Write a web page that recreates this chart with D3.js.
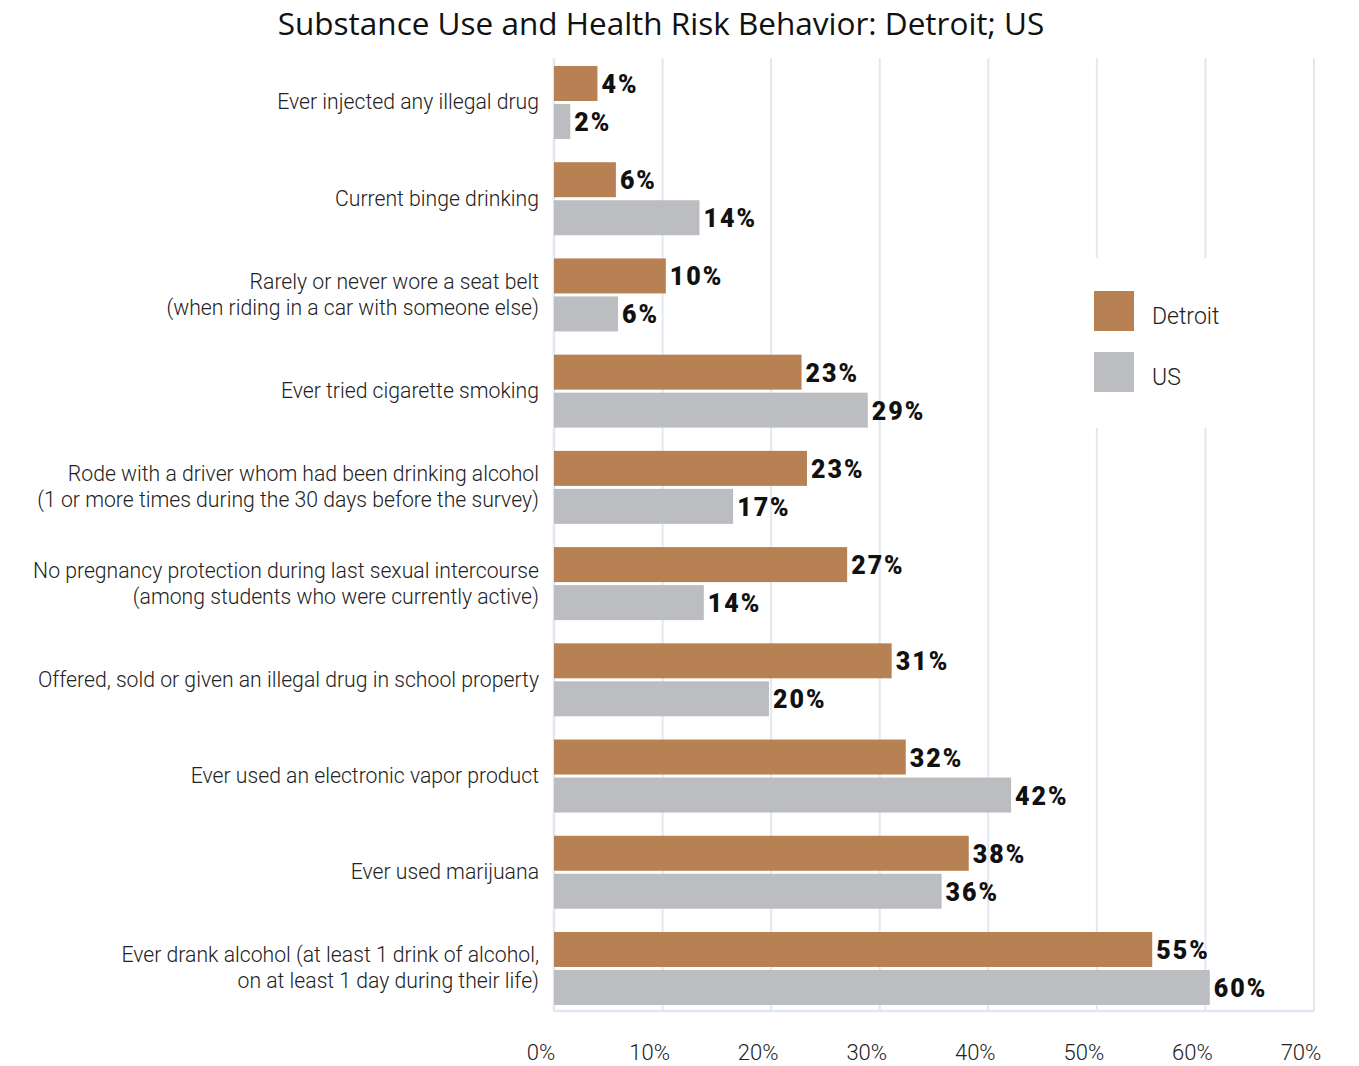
<!DOCTYPE html>
<html>
<head>
<meta charset="utf-8">
<script src="https://cdn.jsdelivr.net/npm/d3@7"></script>
<style>
  body { margin: 0; background: #fff; }
  svg { display: block; }
</style>
</head>
<body>
<svg width="1359" height="1066"></svg>
<script>
// categories, each an array of label lines
const categories = [
    ["Ever injected any illegal drug"],
    ["Current binge drinking"],
    ["Rarely or never wore a seat belt", "(when riding in a car with someone else)"],
    ["Ever tried cigarette smoking"],
    ["Rode with a driver whom had been drinking alcohol", "(1 or more times during the 30 days before the survey)"],
    ["No pregnancy protection during last sexual intercourse", "(among students who were currently active)"],
    ["Offered, sold or given an illegal drug in school property"],
    ["Ever used an electronic vapor product"],
    ["Ever used marijuana"],
    ["Ever drank alcohol (at least 1 drink of alcohol,", "on at least 1 day during their life)"]
];

// bar lengths (%)
const detroitValues = [4.0, 5.7, 10.3, 22.8, 23.3, 27.0, 31.1, 32.4, 38.2, 55.1];
const usValues = [1.5, 13.4, 5.9, 28.9, 16.5, 13.8, 19.8, 42.1, 35.7, 60.4];

// printed value labels
const detroitLabels = ["4%", "6%", "10%", "23%", "23%", "27%", "31%", "32%", "38%", "55%"];
const usLabels = ["2%", "14%", "6%", "29%", "17%", "14%", "20%", "42%", "36%", "60%"];

const xTicks = [0, 10, 20, 30, 40, 50, 60, 70];
const seriesNames = ["Detroit", "US"];
const colors = ["#b88153", "#bcbdc1"];

const svg = d3.select("svg");

const plotLeft = 554, plotRight = 1314;
const plotTop = 58, plotBottom = 1011;

const x = d3.scaleLinear().domain([0, 70]).range([plotLeft, plotRight]);

// group band, each group holds two bars
const y = d3.scaleBand()
    .domain(d3.range(categories.length))
    .range([plotTop, 1013])
    .paddingInner(0.241)
    .paddingOuter(0.083);

const barH = 35;
const barGap = 3;

// gridlines
svg.append("g")
    .selectAll("line")
    .data(xTicks.slice(1))
    .enter()
    .append("line")
    .attr("x1", d => x(d))
    .attr("x2", d => x(d))
    .attr("y1", plotTop)
    .attr("y2", plotBottom)
    .attr("stroke", "#e1e8f2")
    .attr("stroke-width", 2);

// y axis line and bottom axis line
svg.append("line")
    .attr("x1", plotLeft).attr("x2", plotLeft)
    .attr("y1", plotTop).attr("y2", plotBottom)
    .attr("stroke", "#dfe7f3").attr("stroke-width", 2.5);
svg.append("line")
    .attr("x1", plotLeft).attr("x2", plotRight)
    .attr("y1", plotBottom).attr("y2", plotBottom)
    .attr("stroke", "#dfe7f3").attr("stroke-width", 2.5);

// x tick labels
svg.append("g")
    .selectAll("text")
    .data(xTicks)
    .enter()
    .append("text")
    .attr("x", d => x(d) - 13)
    .attr("y", 1060)
    .attr("text-anchor", "middle")
    .style("font-family", "Roboto")
    .style("font-weight", 300)
    .style("font-size", "22px")
    .style("fill", "#222")
    .text(d => d + "%");

// bars
const groups = svg.append("g")
    .selectAll("g")
    .data(categories)
    .enter()
    .append("g")
    .attr("transform", (d, i) => `translate(0,${y(i)})`);

[detroitValues, usValues].forEach((vals, s) => {
    const labs = s === 0 ? detroitLabels : usLabels;
    groups.append("rect")
        .attr("x", plotLeft)
        .attr("y", s * (barH + barGap))
        .attr("width", (d, i) => x(vals[i]) - plotLeft)
        .attr("height", barH)
        .style("fill", colors[s]);

    groups.append("text")
        .attr("x", (d, i) => x(vals[i]) + 4)
        .attr("y", s * (barH + barGap) + barH / 2)
        .attr("dy", "0.38em")
        .style("font-family", "Roboto")
        .style("font-weight", 900)
        .style("font-size", "25px")
        .style("letter-spacing", "2px")
        .style("fill", "#111")
        .text((d, i) => labs[i]);
});

// category labels
groups.each(function(lines) {
    const g = d3.select(this);
    const mid = barH + barGap / 2;
    const lineH = 26;
    lines.forEach((line, k) => {
        g.append("text")
            .attr("x", 539)
            .attr("y", mid + (k - (lines.length - 1) / 2) * lineH - 0.5)
            .attr("dy", "0.35em")
            .attr("text-anchor", "end")
            .style("font-family", "Roboto")
            .style("font-weight", 300)
            .style("font-size", "21.2px")
            .style("fill", "#222")
            .text(line);
    });
});

// legend with white backing
svg.append("rect")
    .attr("x", 1085).attr("y", 258)
    .attr("width", 205).attr("height", 170)
    .style("fill", "#fff");

const legend = svg.append("g")
    .selectAll("g")
    .data(seriesNames)
    .enter()
    .append("g")
    .attr("transform", (d, i) => `translate(1094,${291 + i * 61})`);

legend.append("rect")
    .attr("width", 40).attr("height", 40)
    .style("fill", (d, i) => colors[i]);

legend.append("text")
    .attr("x", 58).attr("y", 25)
    .attr("dy", "0.35em")
    .style("font-family", "Roboto")
    .style("font-weight", 300)
    .style("font-size", "23px")
    .style("fill", "#222")
    .text(d => d);

// title
svg.append("text")
    .attr("x", 661)
    .attr("y", 35)
    .attr("text-anchor", "middle")
    .style("font-family", "Open Sans")
    .style("font-size", "31.5px")
    .style("fill", "#111")
    .text("Substance Use and Health Risk Behavior: Detroit; US");
</script>
</body>
</html>
